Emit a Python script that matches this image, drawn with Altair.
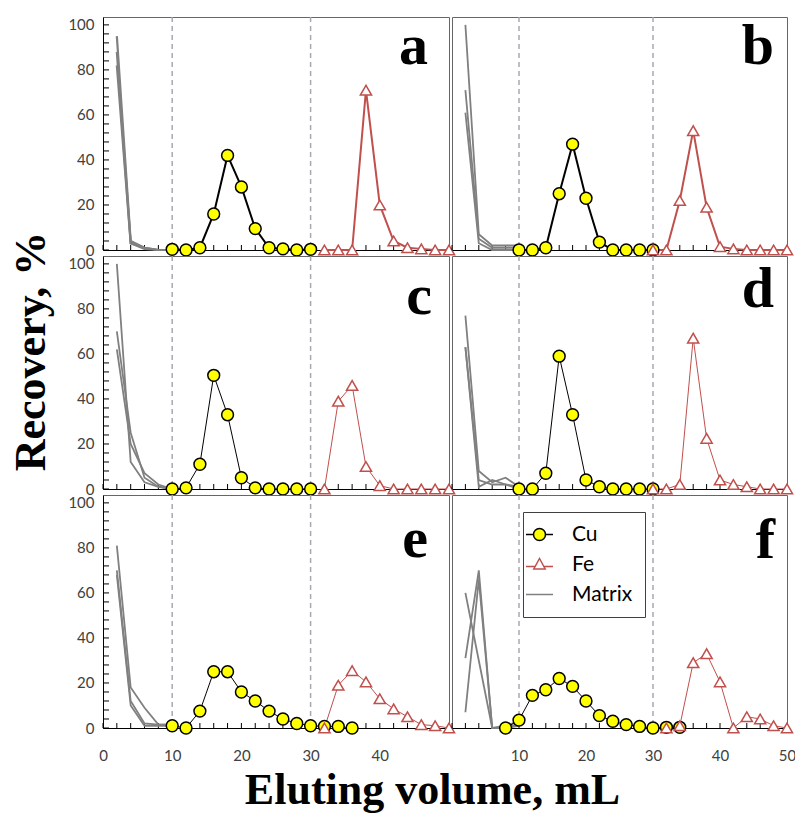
import altair as alt
import pandas as pd

# ---------------- data ----------------
CU_X = [10, 12, 14, 16, 18, 20, 22, 24, 26, 28, 30]
CU_A = [0.3, 0, 1, 16, 42, 28, 9.5, 1, 0.5, 0, 0.3]
CU_B = [0, 0, 1, 25, 47, 23, 3.5, 0, 0, 0, 0]
CU_C = [0, 0.5, 11, 50.5, 33, 5, 0.5, 0, 0, 0, 0]
CU_D = [0, 0, 7, 59, 33, 4, 1, 0, 0, 0, 0]
CU_E_X = [10, 12, 14, 16, 18, 20, 22, 24, 26, 28, 30, 32, 34, 36]
CU_E = [1, 0, 7.5, 25, 25, 16, 12, 7.5, 4, 2, 1, 0.7, 0.7, 0]
CU_F_X = [8, 10, 12, 14, 16, 18, 20, 22, 24, 26, 28, 30, 32, 34]
CU_F = [0, 3.5, 14.5, 17, 22, 18.5, 12, 5.5, 3, 1.5, 0.7, 0, 0.3, 0.3]

FE_X32 = [32, 34, 36, 38, 40, 42, 44, 46, 48, 50]
FE_X30 = [30, 32, 34, 36, 38, 40, 42, 44, 46, 48, 50]
FE_A = [0, 0, 0, 71, 20, 4, 1, 0.5, 0, 0]
FE_B = [0, 0, 22, 53, 19, 1.5, 0.5, 0, 0, 0, 0]
FE_C = [0, 39, 46, 10, 1.5, 0, 0, 0, 0, 0]
FE_D = [0, 0, 2, 67, 22.5, 4, 2, 1, 0, 0, 0]
FE_E = [0, 19, 25.5, 20.5, 13, 8.5, 5, 1.5, 1, 0]
FE_F = [0, 1, 29, 33, 20.5, 0, 5, 4, 1, 0]

MX_X = [2, 4, 6, 8, 10]
MX_A = [[95, 4, 1, 0, 0], [88, 3, 1, 0, 0], [82, 3, 0.5, 0, 0]]
MX_B = [[100, 7, 2, 2, 2], [71, 5, 1, 1, 1], [61, 3, 0, 0, 0]]
MX_C = [[100, 12, 3, 1, 0], [70, 25, 5, 1, 0], [62, 20, 7, 2, 0]]
MX_D = [[77, 8, 3, 5, 1], [63, 4, 2, 2, 1], [63, 1, 4, 2, 0]]
MX_E = [[81, 18, 9, 1.5, 1.5], [70, 12, 2, 1.5, 1.5], [68, 10, 1, 1, 1]]
MX_F = [[60, 30, 0, 0, 2], [31, 70, 0, 1, 3], [7, 66, 0, 0, 1]]

SERIES = ["Cu", "Fe", "Matrix"]
DASH_X = [10, 30]
X_LABELS = [0, 10, 20, 30, 40, 50]
Y_LABELS = [0, 20, 40, 60, 80, 100]
X_TICKS = list(range(0, 51, 2))
Y_TICKS = list(range(0, 101, 4))

# ---------------- style ----------------
CU_FILL = "#ffff00"
FE_COLOR = "#c0504d"
MX_COLOR = "#808080"
DASH_COLOR = "#aaa6b2"
LW, RW, H = 346, 335, 233

P_CU = "M-2.25,0H-1M1,0H2.25M-1,0A1,1,0,1,0,1,0A1,1,0,1,0,-1,0Z"
P_FE = "M-2.25,0.35H-0.73M0.73,0.35H2.25M0,-1L0.95,0.75L-0.95,0.75Z"
P_MX = "M-2.25,0H2.25"

PANELS = [
    # key, cu_x, cu, fe_x, fe, mx, col, row, letter pos (x, y), line width
    ("a", CU_X, CU_A, FE_X32, FE_A, MX_A, 0, 0, (325, 47), 2.0),
    ("b", CU_X, CU_B, FE_X30, FE_B, MX_B, 1, 0, (322, 47), 2.0),
    ("c", CU_X, CU_C, FE_X32, FE_C, MX_C, 0, 1, (329, 58), 1.0),
    ("d", CU_X, CU_D, FE_X30, FE_D, MX_D, 1, 1, (322, 51), 1.0),
    ("e", CU_E_X, CU_E, FE_X32, FE_E, MX_E, 0, 2, (325, 62), 1.0),
    ("f", CU_F_X, CU_F, FE_X32, FE_F, MX_F, 1, 2, (323, 63), 1.0),
]

xs = alt.Scale(domain=[0, 50], nice=False, zero=False)
ys = alt.Scale(domain=[0, 103.5], nice=False, zero=False)


def make_panel(key, cu_x, cu, fe_x, fe, mx, col, row, lpos, lw):
    w = LW if col == 0 else RW
    bottom = row == 2

    if bottom:
        expr = "datum.value == 50 ? '' : datum.label" if col == 0 else "datum.value == 0 ? '' : datum.label"
        xkw = dict(values=X_LABELS, labelExpr=expr, ticks=False, grid=False, labelFlush=False,
                   labelPadding=20, domainColor="black")
        if key == "e":
            xkw.update(title="Eluting volume, mL", titleX=329, titleY=75,
                       titleAlign="center", titleBaseline="alphabetic", titleAngle=0)
        else:
            xkw.update(title=None)
        xaxis = alt.Axis(**xkw)
    else:
        xaxis = alt.Axis(labels=False, ticks=False, grid=False, title=None, domainColor="black")

    if col == 0:
        ykw = dict(values=Y_LABELS, ticks=False, grid=False, labelPadding=9, domainColor="black")
        if key == "c":
            ykw.update(title="Recovery, %", titleX=-59, titleY=95, titleAngle=-90,
                       titleAlign="center", titleBaseline="alphabetic")
        else:
            ykw.update(title=None)
        yaxis = alt.Axis(**ykw)
    else:
        yaxis = None

    def X():
        return alt.X("x:Q", scale=xs, axis=xaxis)

    def Y():
        return alt.Y("y:Q", scale=ys, axis=yaxis)

    cu_df = pd.DataFrame({"x": cu_x, "y": cu, "series": "Cu"})
    fe_df = pd.DataFrame({"x": fe_x, "y": fe, "series": "Fe"})
    mx_rows = []
    for i, run in enumerate(mx):
        for xv, yv in zip(MX_X, run):
            mx_rows.append({"x": xv, "y": yv, "run": i})
    mx_df = pd.DataFrame(mx_rows)

    layers = []
    layers.append(
        alt.Chart(pd.DataFrame({"x": DASH_X})).mark_rule(
            color=DASH_COLOR, strokeDash=[5, 4], strokeWidth=1.5
        ).encode(x=X())
    )
    layers.append(
        alt.Chart(pd.DataFrame({"x": X_TICKS})).mark_rule(color="black", strokeWidth=1).encode(
            x=X(), y=alt.value(H), y2=alt.value(H - 5)
        )
    )
    if col == 0:
        layers.append(
            alt.Chart(pd.DataFrame({"y": Y_TICKS})).mark_rule(color="black", strokeWidth=1).encode(
                y=Y(), x=alt.value(0), x2=alt.value(6)
            )
        )
    layers.append(
        alt.Chart(mx_df).mark_line(color=MX_COLOR, strokeWidth=2.2 if key == "a" else 1.8).encode(
            x=X(), y=Y(), detail="run:N"
        )
    )
    layers.append(alt.Chart(cu_df).mark_line(color="black", strokeWidth=lw).encode(x=X(), y=Y()))
    layers.append(alt.Chart(fe_df).mark_line(color=FE_COLOR, strokeWidth=lw).encode(x=X(), y=Y()))
    layers.append(
        alt.Chart(cu_df).mark_point(shape="circle", filled=True, fill=CU_FILL, stroke="black",
                                    strokeWidth=1.5, size=140, opacity=1).encode(x=X(), y=Y())
    )
    layers.append(
        alt.Chart(fe_df).mark_point(shape="triangle-up", filled=True, fill="white", stroke=FE_COLOR,
                                    strokeWidth=1.5, size=125, opacity=1).encode(x=X(), y=Y())
    )
    layers.append(
        alt.Chart(pd.DataFrame({"t": [key]})).mark_text(
            font="Liberation Serif", fontWeight="bold", fontSize=58, align="right",
            baseline="alphabetic", color="black"
        ).encode(text="t:N", x=alt.value(lpos[0]), y=alt.value(lpos[1]))
    )
    if key == "f":
        leg = alt.Legend(orient="none", legendX=420, legendY=495, title=None,
                         labelExpr="datum.label + '\u2002'")
        layers.append(
            alt.Chart(pd.concat([cu_df, fe_df])).transform_filter("datum.y < -1000").mark_point(
                filled=True, size=144, strokeWidth=1.5, opacity=1
            ).encode(
                x=X(), y=Y(),
                shape=alt.Shape("series:N", scale=alt.Scale(domain=SERIES, range=[P_CU, P_FE, P_MX]), legend=leg),
                fill=alt.Fill("series:N", scale=alt.Scale(domain=SERIES, range=[CU_FILL, "#ffffff", "transparent"]), legend=leg),
                stroke=alt.Stroke("series:N", scale=alt.Scale(domain=SERIES, range=["#000000", FE_COLOR, MX_COLOR]), legend=leg),
            )
        )
    return alt.layer(*layers).properties(width=w, height=H)


panels = [make_panel(*p) for p in PANELS]
chart = alt.concat(*panels, columns=2, spacing={"row": 6, "column": 3}, bounds="flush").properties(
    padding={"left": 0, "top": 7, "right": -2, "bottom": 1}
).configure_view(
    stroke="#666666", strokeWidth=1
).configure_axis(
    labelFont="Lato", labelFontSize=15, labelColor="#404040",
    titleFont="Liberation Serif", titleFontSize=44, titleFontWeight="bold", titleColor="black",
    domainWidth=1
).configure_legend(
    strokeColor="#404040", fillColor="white", padding=12, labelFont="Lato", labelFontSize=21,
    labelColor="black", symbolSize=144, symbolStrokeWidth=1.5, rowPadding=8, labelOffset=22,
    symbolOffset=-6, cornerRadius=0
)

chart.save("out.html", embed_options={"renderer": "svg", "actions": False})
